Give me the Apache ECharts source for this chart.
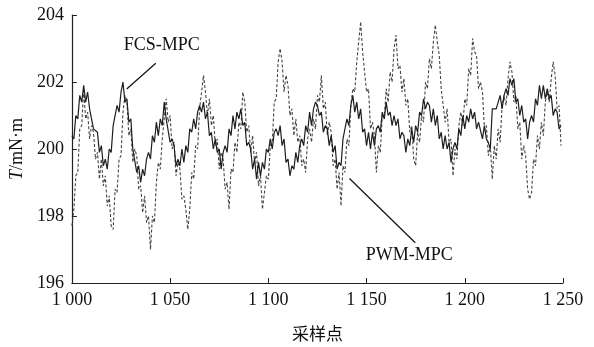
<!DOCTYPE html>
<html>
<head>
<meta charset="utf-8">
<script src="https://cdn.jsdelivr.net/npm/echarts@6/dist/echarts.min.js"></script>
<style>
html,body{margin:0;padding:0;background:#fff;}
#c{width:594px;height:347px;}
</style>
</head>
<body>
<div id="c"></div>
<script>
// sample index range
var startSample = 1000;
var xTicks = [1000, 1050, 1100, 1150, 1200, 1250];
var yTicks = [196, 198, 200, 202, 204];

// FCS-MPC torque (solid), samples 1000..1249
var fcsMpc = [
200.4,200.3,201.0,200.9,201.6,201.4,201.9,201.4,201.7,201.2,
201.2,200.6,200.6,200.5,199.9,200.1,199.5,199.7,199.4,200.0,
199.9,200.7,200.7,201.3,201.1,201.7,202.0,201.4,201.5,200.8,
200.9,200.0,200.0,199.3,199.5,199.0,199.4,199.2,199.7,199.9,
199.7,200.4,200.2,200.8,200.4,200.9,200.7,201.4,200.9,200.9,
200.2,200.3,200.1,199.5,199.7,199.5,200.0,199.6,200.1,199.9,
200.6,200.5,200.9,200.6,201.1,201.3,201.1,201.4,200.9,201.1,
200.4,200.5,200.0,200.3,199.9,200.0,199.4,199.9,200.1,199.9,
200.6,200.4,201.0,200.6,201.1,200.9,201.2,200.7,200.8,200.1,
200.2,200.0,199.4,199.7,199.1,199.6,199.2,199.6,199.4,200.0,
199.9,200.3,200.0,200.5,200.6,200.4,200.7,200.1,200.3,199.6,
199.7,199.2,199.5,199.4,199.9,199.6,200.1,200.3,200.1,200.7,
200.5,201.1,200.7,201.2,201.4,201.3,201.0,201.1,200.5,200.7,
200.6,200.1,200.4,199.9,200.1,199.4,199.6,199.5,200.3,200.3,
200.9,200.7,201.3,201.6,201.1,201.4,200.9,201.2,200.5,200.6,
200.1,200.5,200.0,200.5,200.1,200.6,200.7,200.5,201.1,200.9,
201.4,201.0,201.1,200.7,201.0,200.7,200.9,200.3,200.5,200.4,
199.9,200.3,200.1,200.6,200.2,200.7,200.5,201.1,201.0,201.5,
201.2,201.4,201.3,200.8,201.2,200.7,201.0,200.3,200.5,200.0,
200.4,200.0,200.2,199.6,200.0,200.2,200.0,200.6,200.4,201.0,
200.6,201.0,200.8,201.2,200.9,201.1,200.6,200.8,200.8,200.3,
200.7,200.3,200.2,200.0,201.2,201.2,201.2,201.2,201.6,201.2,
201.6,201.8,201.6,202.1,201.9,202.1,201.4,201.5,201.0,201.3,
200.8,200.9,200.3,200.8,201.0,200.8,201.5,201.3,201.9,201.5,
201.9,201.5,201.8,201.5,201.6,201.0,201.2,201.1,200.6,200.7
];

// PWM-MPC torque (dashed), samples 1000..1249
var pwmMpc = [
197.7,198.2,199.2,199.3,200.6,200.7,201.8,200.9,201.1,200.3,
200.7,200.5,199.7,199.9,199.1,199.7,198.9,199.2,198.3,198.6,
197.7,197.6,198.8,198.7,199.7,199.8,201.1,201.6,201.4,200.4,
200.6,199.6,200.0,199.8,198.8,198.9,198.1,198.6,197.8,198.0,
197.0,198.0,197.8,199.0,199.6,199.4,200.3,200.3,201.5,200.8,
201.0,200.0,200.2,199.2,199.6,199.4,198.5,198.6,198.2,197.6,
198.2,199.3,199.1,200.1,200.0,201.2,201.7,202.2,201.7,201.0,
201.5,200.7,201.0,200.1,200.3,199.4,199.9,199.7,198.8,199.0,
198.2,199.4,199.3,200.2,199.9,200.8,200.6,201.7,201.4,200.5,
200.7,199.9,200.4,199.6,199.9,198.9,199.2,198.2,198.7,199.2,
199.1,200.1,200.2,201.4,201.5,202.6,203.0,202.6,201.7,202.2,
201.9,201.0,201.2,200.4,200.9,200.2,200.4,199.5,199.7,199.3,
200.3,200.6,200.2,200.9,200.6,201.6,201.4,202.2,201.2,201.4,
200.4,200.8,200.5,199.5,199.7,198.8,199.3,198.3,199.5,199.3,
200.3,200.1,201.3,201.8,201.7,202.6,202.6,203.8,202.9,202.9,
201.7,201.8,200.6,200.8,200.4,199.3,200.1,199.9,201.0,200.9,
201.8,201.4,202.3,202.0,203.0,203.4,202.4,202.5,201.7,202.1,
201.3,201.5,200.5,200.7,199.7,199.5,200.5,200.2,201.0,200.8,
202.0,201.8,202.7,202.4,203.2,203.7,203.2,202.8,201.8,201.8,
200.8,201.2,200.2,200.3,199.2,200.0,199.7,200.7,201.1,200.7,
201.5,201.3,202.4,202.2,203.3,202.9,202.8,201.8,202.0,201.7,
200.6,200.7,199.8,200.1,199.1,200.1,199.7,200.6,200.2,201.3,
201.6,201.3,202.1,202.6,202.3,201.4,201.6,200.6,200.8,199.7,
200.1,199.8,198.8,198.5,198.7,199.7,199.5,200.4,200.0,200.8,
200.4,201.4,201.7,201.4,202.1,202.6,202.2,201.2,201.3,200.1
];

// annotation labels and anchor points (data space)
var labelNames = ['FCS-MPC', 'PWM-MPC'];
var labelPos = [[1045.7, 203.1], [1171.7, 196.82]];
var leaderFrom = [[1042.7, 202.56], [1141.3, 199.12]];
var leaderTo = [[1027.9, 201.79], [1174.8, 197.2]];

var serif = '"Liberation Serif","Times New Roman",serif';
function toPairs(arr){ return arr.map(function(v,i){ return [startSample + i, v]; }); }
function fmtThousands(v){
  var s = String(v);
  return s.length > 3 ? s.slice(0, s.length-3) + ' ' + s.slice(s.length-3) : s;
}

var chart = echarts.init(document.getElementById('c'), null, {renderer:'canvas'});
var option = {
  animation: false,
  backgroundColor: '#fff',
  grid: {left: 71, right: 31, top: 15, bottom: 61, containLabel: false},
  xAxis: {
    type: 'value', min: xTicks[0], max: xTicks[xTicks.length-1], interval: 50,
    name: '采样点', nameLocation: 'middle', nameGap: 42,
    nameTextStyle: {fontFamily: '"Noto Sans CJK SC",sans-serif', fontSize: 17, color: '#111'},
    axisLine: {onZero: false, lineStyle: {color: '#222', width: 1.2}},
    axisTick: {inside: true, length: 5, lineStyle: {color: '#222'}},
    axisLabel: {fontFamily: serif, fontSize: 18, color: '#111', margin: 8, formatter: fmtThousands},
    splitLine: {show: false}
  },
  yAxis: {
    type: 'value', min: yTicks[0], max: yTicks[yTicks.length-1], interval: 2,
    name: '{i|T}/mN·m', nameLocation: 'middle', nameGap: 41, nameRotate: 90,
    nameTextStyle: {fontFamily: serif, fontSize: 18, color: '#111',
      rich: {i: {fontFamily: serif, fontSize: 18, fontStyle: 'italic', color: '#111'}}},
    axisLine: {show: true, lineStyle: {color: '#222', width: 1.2}},
    axisTick: {inside: true, length: 5, lineStyle: {color: '#222'}},
    axisLabel: {fontFamily: serif, fontSize: 18, color: '#111', margin: 8},
    splitLine: {show: false}
  },
  series: [
    {
      name: 'PWM-MPC', type: 'line', data: toPairs(pwmMpc), symbol: 'none',
      lineStyle: {color: '#444', width: 1.1, type: [3, 2]}, z: 2
    },
    {
      name: 'FCS-MPC', type: 'line', data: toPairs(fcsMpc), symbol: 'none',
      lineStyle: {color: '#1e1e1e', width: 1.2}, z: 3
    }
  ]
};
chart.setOption(option);

var g = [];
for (var k = 0; k < labelNames.length; k++) {
  var p = chart.convertToPixel({gridIndex: 0}, labelPos[k]);
  var a = chart.convertToPixel({gridIndex: 0}, leaderFrom[k]);
  var b = chart.convertToPixel({gridIndex: 0}, leaderTo[k]);
  g.push({type: 'line', shape: {x1: a[0], y1: a[1], x2: b[0], y2: b[1]},
          style: {stroke: '#111', lineWidth: 1.2}, z: 10});
  g.push({type: 'text', x: p[0], y: p[1],
          style: {text: labelNames[k], font: '18px ' + serif, fill: '#111',
                  textAlign: 'center', textVerticalAlign: 'middle'}, z: 10});
}
chart.setOption({graphic: g});
</script>
</body>
</html>
